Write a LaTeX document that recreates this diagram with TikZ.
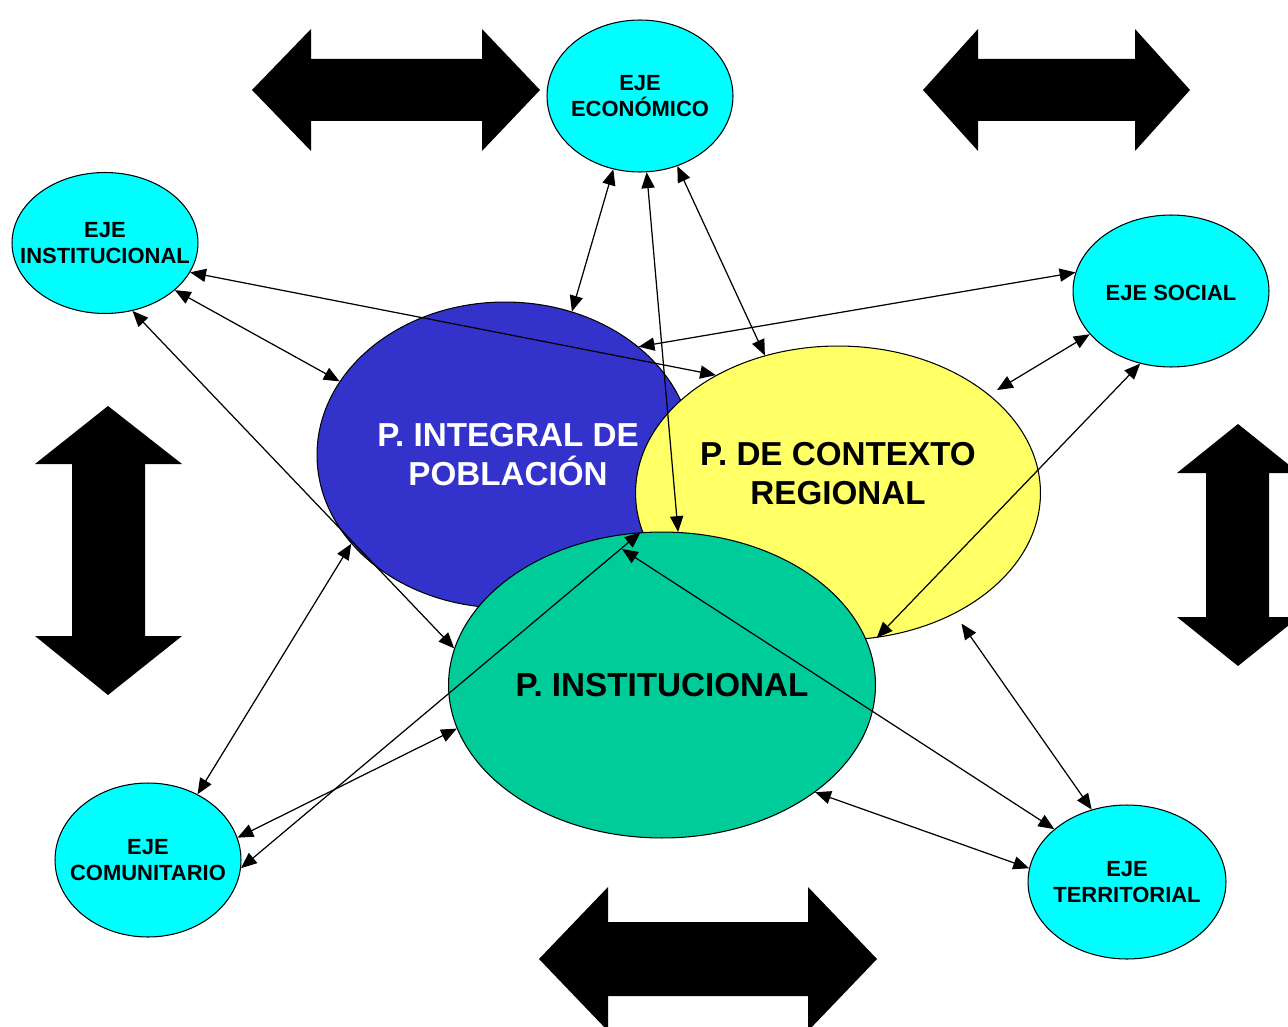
\documentclass[tikz,border=0pt]{standalone}
\usepackage{fontspec}
\setmainfont{Liberation Sans}
\usepackage{xcolor}
\usetikzlibrary{shapes.geometric,arrows.meta,calc}
\definecolor{ejecyan}{HTML}{00FFFF}
\definecolor{pobazul}{HTML}{3333CC}
\definecolor{regamarillo}{HTML}{FFFF66}
\definecolor{insverde}{HTML}{00CC99}
\tikzstyle{line}=[draw]
\tikzstyle{conn}=[line,line width=0.7pt,<->,>={Triangle[length=9pt,width=7.5pt]}]
\tikzstyle{eje}=[ellipse,draw,line width=0.6pt,fill=ejecyan,inner sep=0pt]
\tikzstyle{plan}=[ellipse,draw,line width=0.6pt,inner sep=0pt]
\tikzstyle{ejetext}=[font=\fontsize{12.5}{14.8}\selectfont\bfseries,align=center]
\tikzstyle{plantext}=[font=\fontsize{18.9}{22.2}\selectfont\bfseries,align=center]

\begin{document}
\begin{tikzpicture}[x=0.02cm,y=-0.02cm]
\clip (0,0) rectangle (1288,1027);
\fill[white] (0,0) rectangle (1288,1027);
% flechas de bloque
\fill (252,90)--(311,29)--(311,59)--(482,59)--(482,29)--(540,90)--(482,151)--(482,121)--(311,121)--(311,151)--cycle;
\fill (923,90)--(978,29)--(978,59)--(1135,59)--(1135,29)--(1190,90)--(1135,151)--(1135,121)--(978,121)--(978,151)--cycle;
\fill (539,959)--(608,887)--(608,922)--(808,922)--(808,887)--(877,959)--(808,1031)--(808,996)--(608,996)--(608,1031)--cycle;
\fill (108,406)--(182,464)--(145,464)--(145,636)--(182,636)--(108,695)--(35,636)--(72,636)--(72,464)--(35,464)--cycle;
\fill (1238,424)--(1299,473)--(1269,473)--(1269,617)--(1299,617)--(1238,666)--(1177,617)--(1206,617)--(1206,473)--(1177,473)--cycle;
% planes
\node[plan,fill=pobazul,minimum width=7.52cm,minimum height=6.12cm,label={[plantext,text=white,xshift=0.06cm]center:P. INTEGRAL DE\\POBLACIÓN}](poblacion) at (505,455) {};
\node[plan,fill=regamarillo,minimum width=8.10cm,minimum height=5.88cm,label={[plantext,yshift=0.38cm]center:P. DE CONTEXTO\\REGIONAL}](regional) at (838,493) {};
\node[plan,fill=insverde,minimum width=8.54cm,minimum height=6.12cm,label={[plantext]center:P. INSTITUCIONAL}](institucional) at (662,685) {};
% ejes
\node[eje,minimum width=3.72cm,minimum height=3.04cm,label={[ejetext]center:EJE\\ECONÓMICO}](eco) at (640,96) {};
\node[eje,minimum width=3.72cm,minimum height=2.82cm,label={[ejetext]center:EJE\\INSTITUCIONAL}](inst) at (105,243) {};
\node[eje,minimum width=3.92cm,minimum height=3.04cm,label={[ejetext,yshift=-0.04cm]center:EJE SOCIAL}](social) at (1171,291) {};
\node[eje,minimum width=3.72cm,minimum height=3.08cm,label={[ejetext]center:EJE\\COMUNITARIO}](comun) at (148,860) {};
\node[eje,minimum width=3.96cm,minimum height=3.08cm,label={[ejetext]center:EJE\\TERRITORIAL}](terr) at (1127,882) {};
\coordinate (cruce) at (622,549);
% conectores
\draw[conn] (eco.250) -- (poblacion.65);
\draw[conn] (eco.275) -- (institucional.84);
\draw[conn] (eco.298) -- (regional.118);
\draw[conn] (social.169) -- (poblacion.39);
\draw[conn] (inst.341) -- (regional.136);
\draw[conn] (inst.326) -- (poblacion.156);
\draw[conn] (inst.292) -- (institucional.170);
\draw[conn,shorten >=0.18cm] (social.208) -- (regional.33);
\draw[conn] (social.247) -- (regional.285);
\draw[conn] (comun.53) -- (poblacion.210);
\draw[conn] (comun.14) -- (institucional.192);
\draw[conn] (comun.355) -- (institucional.98);
\draw[conn] (terr.144) -- (cruce);
\draw[conn,shorten >=0.24cm] (terr.116) -- (regional.314);
\draw[conn] (terr.172) -- (institucional.325);
\end{tikzpicture}
\end{document}
